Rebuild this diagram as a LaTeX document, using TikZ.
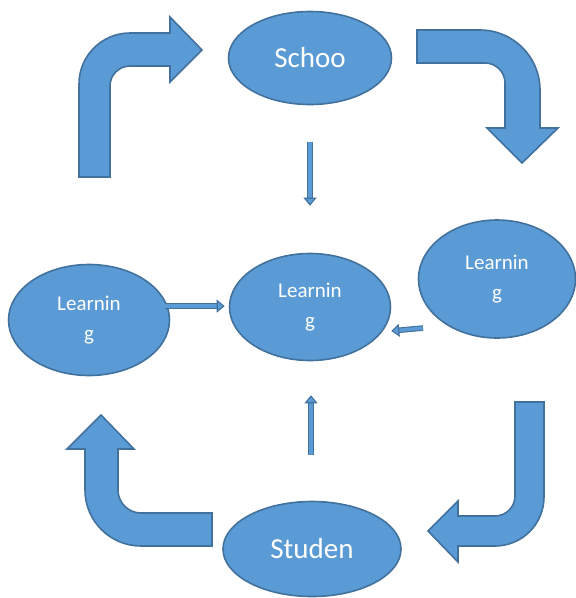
\documentclass[tikz,border=0pt]{standalone}
\usepackage{fontspec}
\setmainfont{Carlito}
\usetikzlibrary{arrows.meta,shapes.geometric}
\definecolor{fillblue}{HTML}{5B9BD5}
\definecolor{edgeblue}{HTML}{41719C}

\begin{document}
\begin{tikzpicture}[
            x=1pt, y=-1pt, thick,
        main node/.style={ellipse,draw=edgeblue,line width=1.6pt,fill=fillblue,
                          text=white,inner sep=0pt,align=center},
        big text/.style={font=\fontsize{29}{34}\selectfont},
        small text/.style={font=\fontsize{21}{30}\selectfont},
        bent/.style={draw=edgeblue,line width=1.6pt,fill=fillblue,line join=miter},
        thin arrow/.style={draw=edgeblue,line width=1.1pt,double=fillblue,double distance=3.4pt,
                           -{Triangle[width=13pt,length=8pt,fill=fillblue]}}
                                ]
    \useasboundingbox (0,0) rectangle (576,598);
    \clip (0,0) rectangle (576,598);

          \node[main node,big text,minimum width=163pt,minimum height=93pt] (school) at (310,58) {Schoo};
          \node[main node,small text,minimum width=161pt,minimum height=111pt] (left) at (89,320) {Learnin\\g};
          \node[main node,small text,minimum width=161pt,minimum height=107pt] (mid) at (310,307) {Learnin\\g};
          \node[main node,small text,minimum width=157pt,minimum height=118pt] (right) at (497,279) {Learnin\\g};
          \node[main node,big text,minimum width=178pt,minimum height=95pt] (student) at (312,549) {Studen};

    % big bent arrows round the cycle
    \draw[bent] (79,177) -- (79,84) arc[start angle=180,end angle=270,radius=51]
        -- (170,33) -- (170,17) -- (202,50) -- (170,82) -- (170,66)
        -- (130,66) arc[start angle=270,end angle=180,radius=20] -- (110,177) -- cycle;
    \draw[bent] (417,30) -- (480,30) arc[start angle=270,end angle=360,radius=60]
        -- (540,128) -- (558,128) -- (522,163) -- (487,128) -- (505,128)
        -- (505,83) arc[start angle=0,end angle=-90,radius=20] -- (417,63) -- cycle;
    \draw[bent] (515,402) -- (544,402) -- (544,497) arc[start angle=0,end angle=90,radius=49]
        -- (458,546) -- (458,562) -- (428,531) -- (458,501) -- (458,516)
        -- (495,516) arc[start angle=90,end angle=0,radius=20] -- cycle;
    \draw[bent] (212,546) -- (141,546) arc[start angle=90,end angle=180,radius=56]
        -- (85,449) -- (67,449) -- (101,415) -- (134,449) -- (118,449)
        -- (118,490) arc[start angle=180,end angle=90,radius=23] -- (212,513) -- cycle;

    % thin arrows into the middle
    \draw[thin arrow,shorten <=37pt,shorten >=47pt] (school.south) -- (school.south |- mid.north);
    \draw[thin arrow,shorten <=46pt,shorten >=34pt] ([xshift=-1pt]student.north) -- ([xshift=-1pt]student.north |- mid.south);
    \draw[thin arrow,shorten <=-3pt,shorten >=4pt] (left.10) -- (left.10 -| mid.west);
    \coordinate (rtail) at (423,328);
    \draw[thin arrow] (rtail) -- ([shift={(0,24)}]mid.east);
    \end{tikzpicture}
\end{document}
